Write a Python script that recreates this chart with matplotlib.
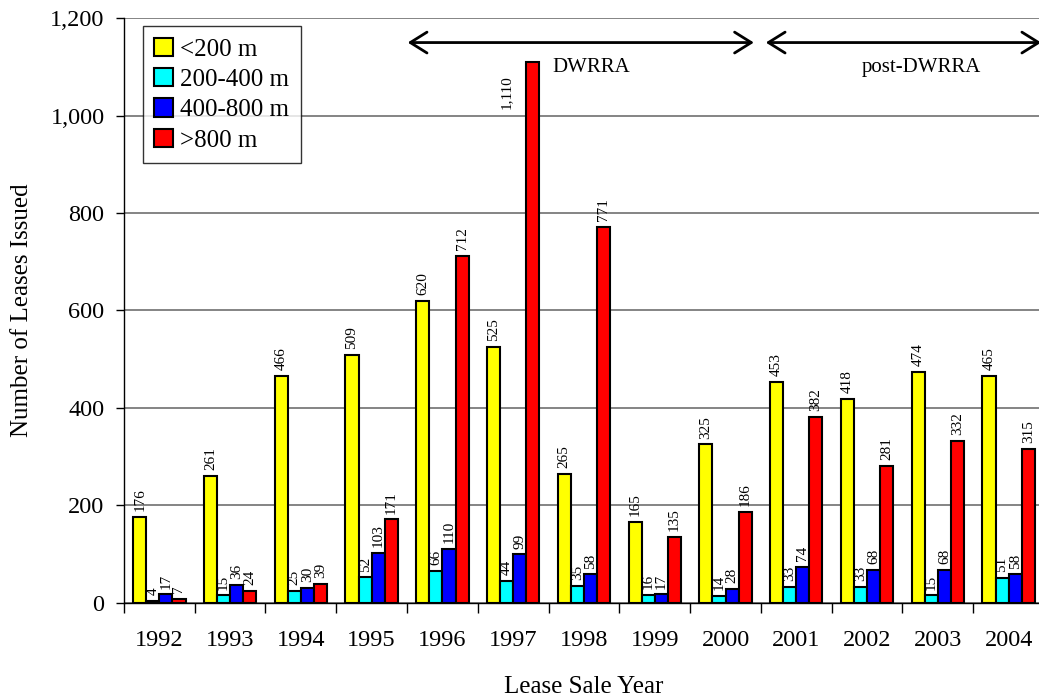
import numpy as np
import matplotlib.pyplot as plt
from matplotlib.ticker import FuncFormatter

plt.rcParams['font.family'] = ['Liberation Serif', 'DejaVu Serif']

years = ['1992', '1993', '1994', '1995', '1996', '1997', '1998', '1999', '2000', '2001', '2002', '2003', '2004']
lt200 = [176, 261, 466, 509, 620, 525, 265, 165, 325, 453, 418, 474, 465]
d200_400 = [4, 15, 25, 52, 66, 44, 35, 16, 14, 33, 33, 15, 51]
d400_800 = [17, 36, 30, 103, 110, 99, 58, 17, 28, 74, 68, 68, 58]
gt800 = [7, 24, 39, 171, 712, 1110, 771, 135, 186, 382, 281, 332, 315]
series_names = ['<200 m', '200-400 m', '400-800 m', '>800 m']
colors = ['#ffff00', '#00ffff', '#0000ff', '#ff0000']

fig = plt.figure(figsize=(10.39, 7), dpi=100)
ax = fig.add_axes([0.1193, 0.139, 0.8855, 0.835])

x = np.arange(len(years))
w = 0.185
series = [lt200, d200_400, d400_800, gt800]
for i, vals in enumerate(series):
	pos = x + (i - 1.5) * w
	ax.bar(pos, vals, w, color=colors[i], edgecolor='black', linewidth=1.5, label=series_names[i], zorder=3)
	for p, v in zip(pos, vals):
		txt = '{:,}'.format(v)
		if v > 1000:
			# no room above this one, label goes left of the bar
			ax.text(p - 0.37, 1083, txt, rotation=90, ha='center', va='top', fontsize=11)
		else:
			ax.text(p, v + 12, txt, rotation=90, ha='center', va='bottom', fontsize=11)

ax.set_xlim(-0.5, len(years) - 0.5)
ax.set_ylim(0, 1200)
ax.set_yticks(np.arange(0, 1201, 200))
ax.yaxis.set_major_formatter(FuncFormatter(lambda v, p: '{:,}'.format(int(v))))
ax.set_xticks(x)
ax.set_xticklabels(years)
ax.set_xticks(np.arange(-0.5, len(years), 1), minor=True)
ax.tick_params(axis='x', which='major', length=0, labelsize=17.5, pad=20)
ax.tick_params(axis='x', which='minor', length=7, width=1, direction='out')
ax.tick_params(axis='y', labelsize=17.5, length=6, width=1, direction='out', pad=8)
ax.yaxis.grid(True, color='#707070', linewidth=1.2, zorder=0)
ax.spines['top'].set_visible(False)
ax.spines['right'].set_visible(False)
ax.spines['left'].set_linewidth(1)
ax.spines['bottom'].set_linewidth(1)
ax.set_ylabel('Number of Leases Issued', fontsize=18, labelpad=12)
ax.set_xlabel('Lease Sale Year', fontsize=18, labelpad=18)

# period arrows
astyle = dict(arrowstyle='<->,head_length=1.2,head_width=0.75', lw=2, color='black')
ax.annotate('', xy=(8.44, 1150), xytext=(3.47, 1150), arrowprops=astyle, annotation_clip=False)
ax.annotate('', xy=(12.5, 1150), xytext=(8.53, 1150), arrowprops=astyle, annotation_clip=False)
ax.text(6.1, 1098, 'DWRRA', ha='center', va='center', fontsize=15)
ax.text(10.77, 1098, 'post-DWRRA', ha='center', va='center', fontsize=15)

leg = ax.legend(loc='upper left', bbox_to_anchor=(0.0207, 0.986), fontsize=18, frameon=True, fancybox=False,
	edgecolor='black', handlelength=0.75, handleheight=0.75, handletextpad=0.3, borderpad=0.45,
	labelspacing=0.3, borderaxespad=0)
leg.get_frame().set_linewidth(1)

fig.savefig('out.png', dpi=100)
